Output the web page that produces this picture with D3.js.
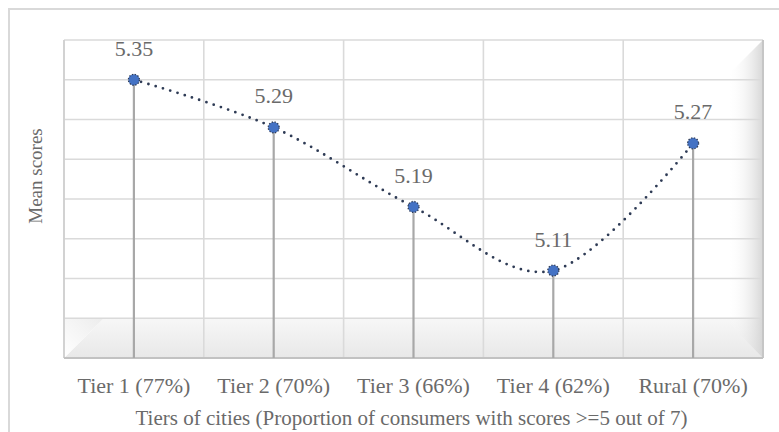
<!DOCTYPE html>
<html>
<head>
<meta charset="utf-8">
<script src="https://cdn.jsdelivr.net/npm/d3@7"></script>
<style>
  html, body { margin: 0; padding: 0; background: #ffffff; }
  svg { display: block; }
  text { font-family: "Liberation Serif", "DejaVu Serif", serif; fill: #6a6a6a; }
</style>
</head>
<body>
<svg id="chart" width="779" height="432"></svg>
<script>
// Mean scores by tier of city
const categories = ["Tier 1 (77%)", "Tier 2 (70%)", "Tier 3 (66%)", "Tier 4 (62%)", "Rural (70%)"];
const meanScores = [5.35, 5.29, 5.19, 5.11, 5.27];
const gridValues = [5.00, 5.05, 5.10, 5.15, 5.20, 5.25, 5.30, 5.35, 5.40];
const xTitle = "Tiers of cities (Proportion of consumers with scores >=5 out of 7)";
const yTitle = "Mean scores";

const svg = d3.select("#chart");
const W = 779, H = 432;

const plot = { left: 64, right: 763, top: 40, bottom: 358 };
const floorBack = 318;

const x = d3.scalePoint().domain(categories).range([plot.left, plot.right]).padding(0.5);
const y = d3.scaleLinear().domain([5.0, 5.4]).range([plot.bottom, plot.top]);
const step = x.step();

const defs = svg.append("defs");
const floorGrad = defs.append("linearGradient").attr("id", "floorGrad")
  .attr("x1", 0).attr("y1", 0).attr("x2", 0).attr("y2", 1);
floorGrad.append("stop").attr("offset", "0%").attr("stop-color", "#f7f7f7");
floorGrad.append("stop").attr("offset", "100%").attr("stop-color", "#e8e8e8");

const sideGrad = defs.append("linearGradient").attr("id", "sideGrad")
  .attr("x1", 0).attr("y1", 0).attr("x2", 1).attr("y2", 0);
sideGrad.append("stop").attr("offset", "0%").attr("stop-color", "#ffffff").attr("stop-opacity", 0);
sideGrad.append("stop").attr("offset", "100%").attr("stop-color", "#d2d2d2").attr("stop-opacity", 0.9);

const cornerGrad = defs.append("linearGradient").attr("id", "cornerGrad")
  .attr("x1", 1).attr("y1", 0).attr("x2", 0).attr("y2", 1);
cornerGrad.append("stop").attr("offset", "0%").attr("stop-color", "#ececec");
cornerGrad.append("stop").attr("offset", "100%").attr("stop-color", "#ffffff");

// chart frame
svg.append("rect")
  .attr("x", 9).attr("y", 9).attr("width", W + 20).attr("height", H + 20)
  .attr("fill", "#ffffff").attr("stroke", "#d9d9d9").attr("stroke-width", 2);

// back wall
svg.append("rect")
  .attr("x", plot.left).attr("y", plot.top)
  .attr("width", plot.right - plot.left).attr("height", plot.bottom - plot.top)
  .attr("fill", "#ffffff");

// floor
const depth = plot.bottom - floorBack;
svg.append("polygon")
  .attr("points", [[plot.left, plot.bottom], [plot.left + depth, floorBack], [plot.right, floorBack], [plot.right, plot.bottom]].join(" "))
  .attr("fill", "url(#floorGrad)");
svg.append("polygon")
  .attr("points", [[plot.left, plot.bottom], [plot.left, floorBack], [plot.left + depth, floorBack]].join(" "))
  .attr("fill", "url(#cornerGrad)");

// right side wall
const sideW = 35;
svg.append("polygon")
  .attr("points", [[plot.right - sideW, plot.top + sideW], [plot.right, plot.top], [plot.right, plot.bottom], [plot.right - sideW, floorBack + 4]].join(" "))
  .attr("fill", "url(#sideGrad)");

// horizontal gridlines
svg.append("g").selectAll("line").data(gridValues).join("line")
  .attr("x1", plot.left).attr("x2", plot.right)
  .attr("y1", d => y(d)).attr("y2", d => y(d))
  .attr("stroke", "#dadada").attr("stroke-width", 1.6);

// vertical gridlines at category boundaries
const bounds = d3.range(categories.length + 1).map(i => plot.left + i * step);
svg.append("g").selectAll("line").data(bounds).join("line")
  .attr("x1", d => d).attr("x2", d => d)
  .attr("y1", plot.top).attr("y2", plot.bottom)
  .attr("stroke", "#dadada").attr("stroke-width", 1.6);

// plot edges
svg.append("line").attr("x1", plot.left).attr("x2", plot.left).attr("y1", plot.top).attr("y2", plot.bottom)
  .attr("stroke", "#cfcfcf").attr("stroke-width", 1.6);
svg.append("line").attr("x1", plot.right).attr("x2", plot.right).attr("y1", plot.top).attr("y2", plot.bottom)
  .attr("stroke", "#c6c6c6").attr("stroke-width", 2);
svg.append("line").attr("x1", plot.left).attr("x2", plot.right).attr("y1", plot.bottom).attr("y2", plot.bottom)
  .attr("stroke", "#c2c2c2").attr("stroke-width", 2);

const pts = categories.map((c, i) => ({ c, v: meanScores[i] }));

// drop lines
svg.append("g").selectAll("line").data(pts).join("line")
  .attr("x1", d => x(d.c)).attr("x2", d => x(d.c))
  .attr("y1", d => y(d.v)).attr("y2", plot.bottom)
  .attr("stroke", "#a8a8a8").attr("stroke-width", 2.2);

// smoothed dotted line
const line = d3.line().x(d => x(d.c)).y(d => y(d.v)).curve(d3.curveCardinal.tension(0));
svg.append("path").datum(pts)
  .attr("d", line)
  .attr("fill", "none").attr("stroke", "#2e3b55").attr("stroke-width", 2.8)
  .attr("stroke-linecap", "round").attr("stroke-dasharray", "0 7.6");

// markers
svg.append("g").selectAll("circle").data(pts).join("circle")
  .attr("cx", d => x(d.c)).attr("cy", d => y(d.v)).attr("r", 5.5)
  .attr("fill", "#4472c4").attr("stroke", "#2e3b55").attr("stroke-width", 1.3)
  .attr("stroke-dasharray", "1.3 1.6");

// data labels
svg.append("g").selectAll("text").data(pts).join("text")
  .attr("x", d => x(d.c)).attr("y", d => y(d.v) - 24)
  .attr("text-anchor", "middle").attr("font-size", 22)
  .text(d => d.v.toFixed(2));

// category labels
svg.append("g").selectAll("text").data(categories).join("text")
  .attr("x", d => x(d)).attr("y", 393)
  .attr("text-anchor", "middle").attr("font-size", 22)
  .text(d => d);

// axis titles
svg.append("text")
  .attr("x", (plot.left + plot.right) / 2 - 2).attr("y", 425)
  .attr("text-anchor", "middle").attr("font-size", 21)
  .text(xTitle);

svg.append("text")
  .attr("transform", `translate(42, ${(plot.top + floorBack) / 2 - 3}) rotate(-90)`)
  .attr("text-anchor", "middle").attr("font-size", 19)
  .text(yTitle);
</script>
</body>
</html>
